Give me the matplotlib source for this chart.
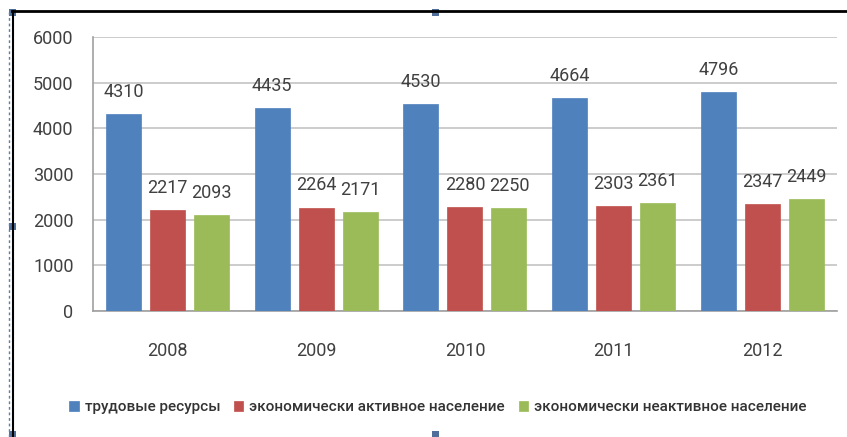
import numpy as np
import matplotlib
matplotlib.use("Agg")
import matplotlib.pyplot as plt
from matplotlib.patches import Rectangle
from matplotlib.lines import Line2D

# данные
years = ["2008", "2009", "2010", "2011", "2012"]
trud = [4310, 4435, 4530, 4664, 4796]
aktiv = [2217, 2264, 2280, 2303, 2347]
neaktiv = [2093, 2171, 2250, 2361, 2449]
names = ["трудовые ресурсы",
         "экономически активное население",
         "экономически неактивное население"]
colors = ["#4F81BD", "#C0504D", "#9BBB59"]
yticks = [0, 1000, 2000, 3000, 4000, 5000, 6000]

plt.rcParams['font.family'] = ['Roboto', 'DejaVu Sans']
txt = "#404040"

fig = plt.figure(figsize=(8.47, 4.37), dpi=100)
ax = fig.add_axes([0.1098, 0.2883, 0.8782, 0.627])

x = np.arange(len(years))
w = 0.235
off = 0.296
series = [trud, aktiv, neaktiv]
for k in range(3):
    pos = x + (k - 1) * off
    ax.bar(pos, series[k], width=w, color=colors[k], label=names[k],
           zorder=3, edgecolor=colors[k], linewidth=0.5)
    for p, v in zip(pos, series[k]):
        ax.annotate(str(v), (p, v), xytext=(0, 9.5), textcoords="offset points",
                    ha="center", va="bottom", fontsize=13, color=txt)

ax.set_xlim(-0.5, len(years) - 0.5)
ax.set_ylim(0, 6000)
ax.set_yticks(yticks)
ax.set_xticks(x)
ax.set_xticklabels(years)
ax.yaxis.grid(True, color="#C4C4C4", linewidth=1.2, zorder=0)
ax.set_axisbelow(True)
for s in ["top", "right"]:
    ax.spines[s].set_visible(False)
for s in ["left", "bottom"]:
    ax.spines[s].set_color("#A0A0A0")
    ax.spines[s].set_linewidth(1.2)
ax.tick_params(axis="y", length=0, pad=14, labelsize=13, labelcolor=txt)
ax.tick_params(axis="x", length=0, pad=22, labelsize=13, labelcolor=txt)

leg = fig.legend(loc="center", bbox_to_anchor=(0.517, 0.068), ncol=3,
                 frameon=False, prop={"size": 11, "weight": "medium"},
                 handlelength=0.6, handleheight=0.6,
                 handletextpad=0.4, columnspacing=0.9)
for t in leg.get_texts():
    t.set_color("#333333")

# рамка выделения (как в Word)
fig.add_artist(Line2D([12 / 847, 1], [1 - 11 / 437, 1 - 11 / 437],
                      transform=fig.transFigure, color="black", linewidth=2))
fig.add_artist(Line2D([13 / 847, 13 / 847], [0, 1 - 11 / 437],
                      transform=fig.transFigure, color="black", linewidth=1.5))
fig.add_artist(Line2D([9 / 847, 9 / 847], [0, 1 - 11 / 437],
                      transform=fig.transFigure, color="#5B7FA8", linewidth=1,
                      linestyle=(0, (2, 2))))
for hx, hy in [(12, 12), (435, 12), (12, 226), (435, 434), (12, 434)]:
    fig.add_artist(Rectangle(((hx - 3.5) / 847, 1 - (hy + 3.5) / 437),
                             7 / 847, 7 / 437, transform=fig.transFigure,
                             facecolor="#4F6F9A", edgecolor="none"))

fig.savefig("out.png", dpi=100)
